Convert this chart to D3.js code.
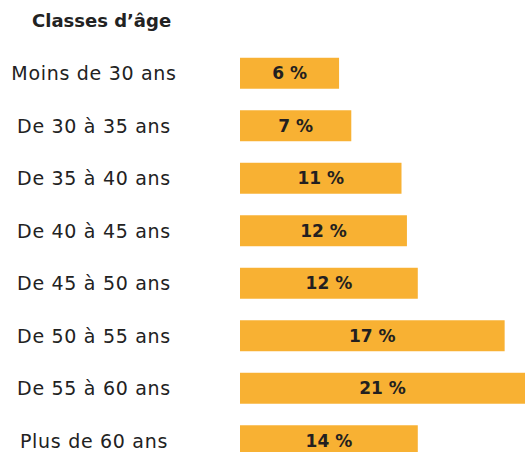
<!DOCTYPE html>
<html>
<head>
<meta charset="utf-8">
<script src="https://cdn.jsdelivr.net/npm/d3@7"></script>
<style>
  body { margin: 0; background: #fff; }
  svg { display: block; font-family: "DejaVu Sans", sans-serif; }
  .title { font-weight: 700; font-size: 18px; fill: #222; }
  .cat { font-size: 19px; letter-spacing: 0.7px; fill: #222; }
  .val { font-weight: 700; font-size: 17px; fill: #231f20; }
</style>
</head>
<body>
<div id="chart"></div>
<script>
// age groups, top to bottom
const categories = [
  'Moins de 30 ans',
  'De 30 à 35 ans',
  'De 35 à 40 ans',
  'De 40 à 45 ans',
  'De 45 à 50 ans',
  'De 50 à 55 ans',
  'De 55 à 60 ans',
  'Plus de 60 ans',
];
// labels printed in the bars
const labels = ['6 %', '7 %', '11 %', '12 %', '12 %', '17 %', '21 %', '14 %'];
// bar lengths as drawn (in %)
const values = [7.3, 8.2, 11.9, 12.3, 13.1, 19.5, 21, 13.1];

const width = 525;
const height = 452;
const barLeft = 240;

const svg = d3
  .select('#chart')
  .append('svg')
  .attr('width', width)
  .attr('height', height);

const x = d3.scaleLinear().domain([0, 21]).range([barLeft, width]);

const y = d3
  .scaleBand()
  .domain(categories)
  .range([47, 467])
  .paddingInner(0.41)
  .paddingOuter(0.205);

const rows = categories.map((c, i) => ({ cat: c, value: values[i], label: labels[i] }));

svg
  .append('text')
  .attr('class', 'title')
  .attr('x', 32)
  .attr('y', 27)
  .text('Classes d’âge');

svg
  .append('g')
  .selectAll('text')
  .data(rows)
  .join('text')
  .attr('class', 'cat')
  .attr('x', 94)
  .attr('y', (d) => y(d.cat) + y.bandwidth() / 2)
  .attr('dy', '0.36em')
  .attr('text-anchor', 'middle')
  .text((d) => d.cat);

svg
  .append('g')
  .selectAll('rect')
  .data(rows)
  .join('rect')
  .attr('x', x(0))
  .attr('y', (d) => y(d.cat))
  .attr('width', (d) => x(d.value) - x(0))
  .attr('height', y.bandwidth())
  .attr('fill', '#f8b133');

svg
  .append('g')
  .selectAll('text')
  .data(rows)
  .join('text')
  .attr('class', 'val')
  .attr('x', (d) => (x(0) + x(d.value)) / 2)
  .attr('y', (d) => y(d.cat) + y.bandwidth() / 2)
  .attr('dy', '0.36em')
  .attr('text-anchor', 'middle')
  .text((d) => d.label);
</script>
</body>
</html>
